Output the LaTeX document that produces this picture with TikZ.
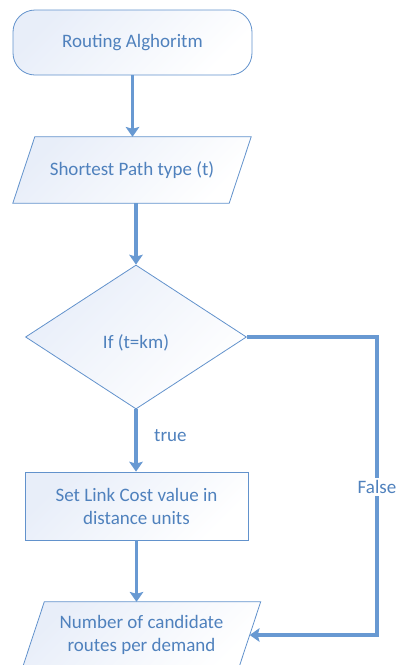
\documentclass[tikz,border=0pt]{standalone}
\usepackage{fontspec}
\setmainfont{Carlito}
\usetikzlibrary{arrows.meta,shapes.geometric,backgrounds}
\definecolor{linkblue}{RGB}{104,153,210}
\definecolor{edgeblue}{RGB}{98,146,204}
\definecolor{textblue}{RGB}{79,129,189}
\definecolor{fillblue}{RGB}{232,238,249}
\begin{document}
\begin{tikzpicture}[x=1pt,y=-1pt,
  font=\fontsize{19}{23}\selectfont, text=textblue,
  boxfill/.style={draw=edgeblue, line width=0.8pt, top color=fillblue,
    bottom color=white, shading angle=45},
  txt/.style={inner sep=0pt, align=center},
  flow/.style={draw=linkblue, line width=3.5pt,
    -{Stealth[length=10pt,width=14pt,inset=2pt,line width=0pt]}},
  lbl/.style={inner sep=2pt, text=textblue}
]
\useasboundingbox (0,0) rectangle (397,665);
\clip (0,0) rectangle (397,665);

% start terminal
\node[txt, boxfill, rounded corners=22pt, minimum width=239, minimum height=65]
  (start) at (132.5,42.5) {Routing Alghoritm};

% input: shortest path type
\node[txt, minimum width=216, minimum height=66] (shortest) at (132,170)
  {Shortest Path type (t)};

% decision
\node[txt, boxfill, shape=diamond, minimum width=221, minimum height=144]
  (test) at (136,337) {};
\node[txt] (testlbl) at ([yshift=-6pt]test.center) {If (t=km)};

% process
\node[txt, boxfill, minimum width=223, minimum height=68] (unitbox) at (136.5,506)
  {Set Link Cost value in\\distance units};

% output: candidate routes
\node[txt, minimum width=216, minimum height=66] (routes) at (141.5,635)
  {Number of candidate\\routes per demand};

% parallelogram outlines behind the text
\begin{scope}[on background layer]
  \path[boxfill] ([xshift=-11pt]shortest.south west) -- ([xshift=11pt]shortest.north west)
    -- ([xshift=11pt]shortest.north east) -- ([xshift=-11pt]shortest.south east) -- cycle;
  \path[boxfill] ([xshift=-11pt]routes.south west) -- ([xshift=11pt]routes.north west)
    -- ([xshift=11pt]routes.north east) -- ([xshift=-11pt]routes.south east) -- cycle;
\end{scope}

% connectors
\draw[flow] (start.south) -- (start.south |- shortest.north);
\draw[flow] (test.north |- shortest.south) -- (test.north);
\draw[flow] (test.south) -- (test.south |- unitbox.north);
\draw[flow] (unitbox.south) -- (unitbox.south |- routes.north);

\coordinate (bend) at (377,337);
\draw[flow] (test.east) -- (bend) -- (bend |- routes.east) -- (routes.east);

% branch labels
\node[lbl, anchor=west] (truelbl) at (152,436) {true};
\node[lbl, fill=white] (falselbl) at (377,487) {False};
\end{tikzpicture}
\end{document}
